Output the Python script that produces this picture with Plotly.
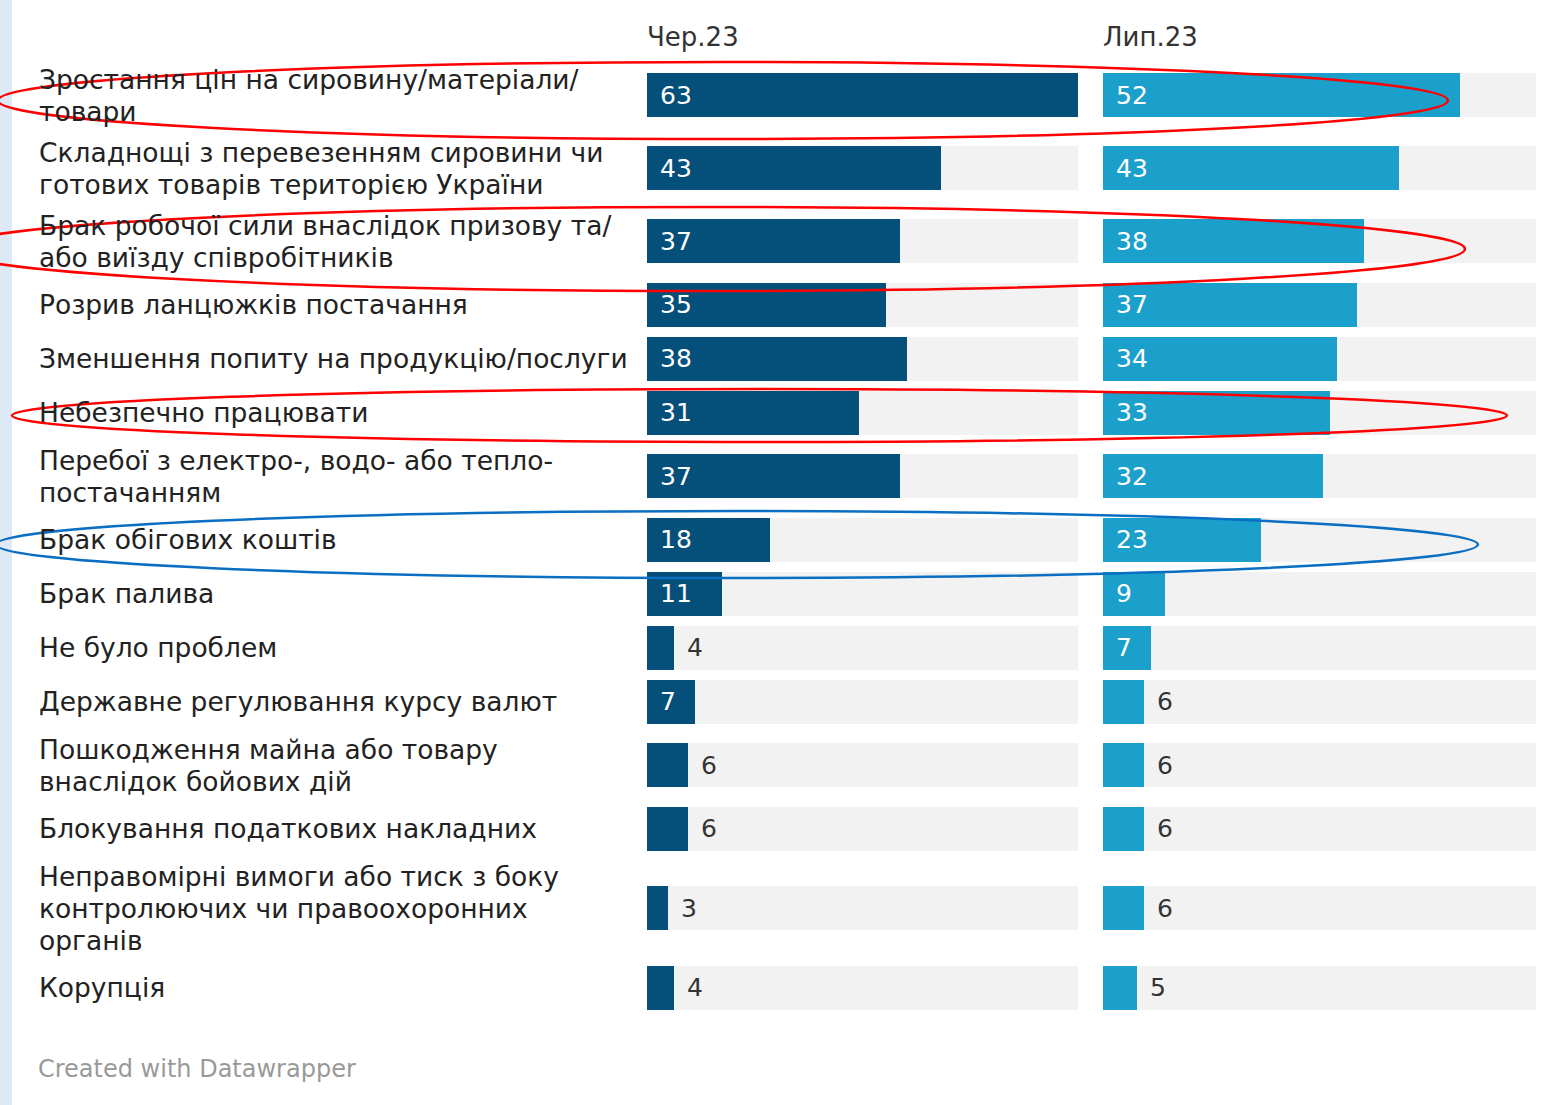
import plotly.graph_objects as go

W, H = 1549, 1105

categories = [
    "Зростання цін на сировину/матеріали/<br>товари",
    "Складнощі з перевезенням сировини чи<br>готових товарів територією України",
    "Брак робочої сили внаслідок призову та/<br>або виїзду співробітників",
    "Розрив ланцюжків постачання",
    "Зменшення попиту на продукцію/послуги",
    "Небезпечно працювати",
    "Перебої з електро-, водо- або тепло-<br>постачанням",
    "Брак обігових коштів",
    "Брак палива",
    "Не було проблем",
    "Державне регулювання курсу валют",
    "Пошкодження майна або товару<br>внаслідок бойових дій",
    "Блокування податкових накладних",
    "Неправомірні вимоги або тиск з боку<br>контролюючих чи правоохоронних<br>органів",
    "Корупція",
]
jun_23 = [63, 43, 37, 35, 38, 31, 37, 18, 11, 4, 7, 6, 6, 3, 4]
jul_23 = [52, 43, 38, 37, 34, 33, 32, 23, 9, 7, 6, 6, 6, 6, 5]
periods = ["Чер.23", "Лип.23"]
colors = ["#05507a", "#1ba0cc"]

FONT = "DejaVu Sans, Liberation Sans, sans-serif"
LINE_H = 32

# row heights depend on how many lines the label wraps to (y axis is in pixels)
centers = []
top = 58.5
for c in categories:
    n_lines = c.count("<br>") + 1
    h = max(54, LINE_H * n_lines + 9)
    centers.append(top + h / 2)
    top += h

x_max = max(jun_23 + jul_23)
panels = [(647, 1078), (1103, 1536)]

fig = go.Figure()
annotations = []

for i, (name, values) in enumerate(zip(periods, [jun_23, jul_23])):
    xa = "x" if i == 0 else "x2"
    fig.add_trace(go.Bar(
        x=[x_max] * len(values), y=centers, orientation="h", width=44,
        marker=dict(color="#f2f2f2", line=dict(width=0)),
        xaxis=xa, yaxis="y", hoverinfo="skip", showlegend=False,
    ))
    fig.add_trace(go.Bar(
        x=values, y=centers, orientation="h", width=44, name=name,
        marker=dict(color=colors[i], line=dict(width=0)),
        xaxis=xa, yaxis="y", showlegend=False,
    ))
    # column header
    annotations.append(dict(
        text=name, xref="paper", yref="y", x=(panels[i][0] - 2) / W, y=37,
        xanchor="left", yanchor="middle", showarrow=False,
        font=dict(family=FONT, size=26, color="#333333"),
    ))
    # value labels: inside the bar when it is long enough, after it otherwise
    for v, yc in zip(values, centers):
        inside = v >= 7
        annotations.append(dict(
            text=str(v), xref=xa, yref="y", x=0 if inside else v, y=yc,
            xanchor="left", yanchor="middle", xshift=11, showarrow=False,
            font=dict(family=FONT, size=25,
                      color="#ffffff" if inside else "#333333"),
        ))

# row labels, one annotation per line to keep the 32px line pitch
for c, yc in zip(categories, centers):
    lines = c.split("<br>")
    for k, line in enumerate(lines):
        annotations.append(dict(
            text=line, xref="paper", yref="y", x=37 / W,
            y=yc + (k - (len(lines) - 1) / 2) * LINE_H,
            xanchor="left", yanchor="middle", showarrow=False,
            font=dict(family=FONT, size=26.5, color="#222222"),
        ))

annotations.append(dict(
    text="Created with Datawrapper", xref="paper", yref="y", x=36 / W, y=1069,
    xanchor="left", yanchor="middle", showarrow=False,
    font=dict(family=FONT, size=24, color="#999999"),
))

# hand-drawn highlight ellipses
ellipses = [
    (-2, 1448, 62, 139, "#ff0000"),
    (-50, 1465, 207, 291, "#ff0000"),
    (12, 1507, 389, 442, "#ff0000"),
    (-4, 1478, 511, 578, "#0a6fc2"),
]
shapes = [dict(
    type="rect", xref="paper", yref="paper", x0=0, x1=12 / W, y0=0, y1=1,
    fillcolor="#dde9f5", line=dict(width=0), layer="below",
)]
for x0, x1, y0, y1, col in ellipses:
    shapes.append(dict(
        type="circle", xref="paper", yref="y",
        x0=x0 / W, x1=x1 / W, y0=y0, y1=y1,
        line=dict(color=col, width=2.5), layer="above",
    ))

fig.update_layout(
    width=W, height=H,
    margin=dict(l=0, r=0, t=0, b=0),
    paper_bgcolor="white", plot_bgcolor="rgba(0,0,0,0)",
    barmode="overlay", bargap=0,
    xaxis=dict(domain=[panels[0][0] / W, panels[0][1] / W], range=[0, x_max],
               visible=False, fixedrange=True),
    xaxis2=dict(domain=[panels[1][0] / W, panels[1][1] / W], range=[0, x_max],
                visible=False, fixedrange=True),
    yaxis=dict(domain=[0, 1], range=[H, 0], visible=False, fixedrange=True),
    annotations=annotations,
    shapes=shapes,
)

# drop the default 8px page margin so the figure fills the window exactly
fig.write_html(
    "out.html",
    config={"displayModeBar": False},
    post_script="document.body.style.margin = '0';",
)
